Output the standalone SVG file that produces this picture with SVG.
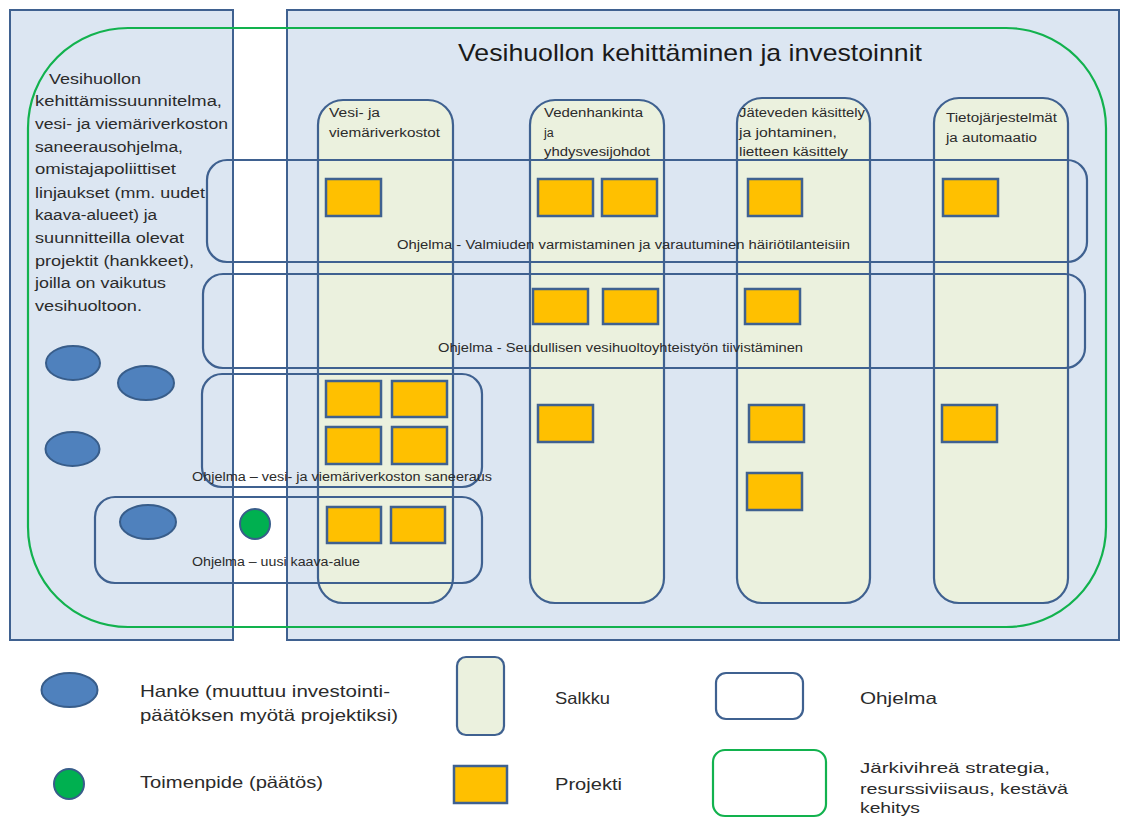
<svg xmlns="http://www.w3.org/2000/svg" width="1121" height="818" viewBox="0 0 1121 818">
  <style>
    text { font-family: "Liberation Sans", Arial, sans-serif; fill: #2b2b2b; }
    .panel { fill: #DCE6F2; stroke: #3F6190; stroke-width: 2; }
    .strategy { fill: none; stroke: #12B24E; stroke-width: 2.2; }
    .salkku { fill: #EBF1DE; stroke: #3F6190; stroke-width: 2.2; }
    .ohjelma { fill: none; stroke: #3F6190; stroke-width: 2.2; }
    .projekti { fill: #FFC000; stroke: #3F6190; stroke-width: 2.5; }
    .hanke { fill: #4F81BD; stroke: #385D8A; stroke-width: 2; }
    .toimenpide { fill: #00B050; stroke: #385D8A; stroke-width: 2; }
    .title { font-size: 24px; fill: #1a1a1a; }
    .desc { font-size: 15.5px; }
    .col { font-size: 12.5px; }
    .prog { font-size: 12.5px; }
    .legend { font-size: 16.5px; }
    .legend-sm { font-size: 15px; }
  </style>

  <!-- background panels -->
  <g id="panel-left">
    <rect class="panel" x="10" y="10" width="223" height="630"/>
  </g>
  <g id="panel-main">
    <rect class="panel" x="287" y="10" width="832" height="630"/>
    <text class="title" x="458" y="61" textLength="464" lengthAdjust="spacingAndGlyphs">Vesihuollon kehittäminen ja investoinnit</text>
  </g>

  <!-- strategy frame -->
  <g id="strategia">
    <rect class="strategy" x="28" y="28" width="1078" height="599" rx="100" ry="100"/>
  </g>

  <!-- left description -->
  <g id="kuvaus">
    <text class="desc" x="49" y="84" textLength="92" lengthAdjust="spacingAndGlyphs">Vesihuollon</text>
    <text class="desc" x="35" y="106" textLength="187" lengthAdjust="spacingAndGlyphs">kehittämissuunnitelma,</text>
    <text class="desc" x="35" y="129" textLength="193" lengthAdjust="spacingAndGlyphs">vesi- ja viemäriverkoston</text>
    <text class="desc" x="35" y="152" textLength="148" lengthAdjust="spacingAndGlyphs">saneerausohjelma,</text>
    <text class="desc" x="35" y="174" textLength="141" lengthAdjust="spacingAndGlyphs">omistajapoliittiset</text>
    <text class="desc" x="35" y="198" textLength="170" lengthAdjust="spacingAndGlyphs">linjaukset (mm. uudet</text>
    <text class="desc" x="35" y="220" textLength="122" lengthAdjust="spacingAndGlyphs">kaava-alueet) ja</text>
    <text class="desc" x="35" y="243" textLength="149" lengthAdjust="spacingAndGlyphs">suunnitteilla olevat</text>
    <text class="desc" x="35" y="266" textLength="159" lengthAdjust="spacingAndGlyphs">projektit (hankkeet),</text>
    <text class="desc" x="35" y="288" textLength="131" lengthAdjust="spacingAndGlyphs">joilla on vaikutus</text>
    <text class="desc" x="35" y="311" textLength="107" lengthAdjust="spacingAndGlyphs">vesihuoltoon.</text>
  </g>

  <!-- portfolios (salkut) -->
  <g id="salkku-verkostot">
    <rect class="salkku" x="318" y="100" width="135" height="503" rx="25" ry="25"/>
    <text class="col" x="329" y="117" textLength="51" lengthAdjust="spacingAndGlyphs">Vesi- ja</text>
    <text class="col" x="329" y="137" textLength="111" lengthAdjust="spacingAndGlyphs">viemäriverkostot</text>
  </g>
  <g id="salkku-vedenhankinta">
    <rect class="salkku" x="530" y="100" width="134" height="503" rx="25" ry="25"/>
    <text class="col" x="544" y="117" textLength="99" lengthAdjust="spacingAndGlyphs">Vedenhankinta</text>
    <text class="col" x="544" y="137">ja</text>
    <text class="col" x="544" y="156" textLength="106" lengthAdjust="spacingAndGlyphs">yhdysvesijohdot</text>
  </g>
  <g id="salkku-jatevesi">
    <rect class="salkku" x="737" y="98" width="133" height="505" rx="25" ry="25"/>
    <text class="col" x="739" y="117" textLength="126" lengthAdjust="spacingAndGlyphs">Jäteveden käsittely</text>
    <text class="col" x="739" y="137" textLength="98" lengthAdjust="spacingAndGlyphs">ja johtaminen,</text>
    <text class="col" x="739" y="156" textLength="109" lengthAdjust="spacingAndGlyphs">lietteen käsittely</text>
  </g>
  <g id="salkku-tietojarjestelmat">
    <rect class="salkku" x="934" y="98" width="134" height="505" rx="25" ry="25"/>
    <text class="col" x="946" y="122" textLength="111" lengthAdjust="spacingAndGlyphs">Tietojärjestelmät</text>
    <text class="col" x="946" y="142" textLength="91" lengthAdjust="spacingAndGlyphs">ja automaatio</text>
  </g>

  <!-- programmes (ohjelmat) -->
  <g id="ohjelma-valmius">
    <rect class="ohjelma" x="207" y="160" width="880" height="102" rx="20" ry="20"/>
    <text class="prog" x="397" y="249" textLength="453" lengthAdjust="spacingAndGlyphs">Ohjelma - Valmiuden varmistaminen ja varautuminen häiriötilanteisiin</text>
  </g>
  <g id="ohjelma-seudullinen">
    <rect class="ohjelma" x="203" y="274" width="882" height="94" rx="20" ry="20"/>
    <text class="prog" x="438" y="352" textLength="365" lengthAdjust="spacingAndGlyphs">Ohjelma - Seudullisen vesihuoltoyhteistyön tiivistäminen</text>
  </g>
  <g id="ohjelma-saneeraus">
    <rect class="ohjelma" x="202" y="374" width="280" height="113" rx="20" ry="20"/>
    <text class="prog" x="192" y="481" textLength="300" lengthAdjust="spacingAndGlyphs">Ohjelma – vesi- ja viemäriverkoston saneeraus</text>
  </g>
  <g id="ohjelma-kaava">
    <rect class="ohjelma" x="95" y="497" width="387" height="86" rx="20" ry="20"/>
    <text class="prog" x="192" y="566" textLength="168" lengthAdjust="spacingAndGlyphs">Ohjelma – uusi kaava-alue</text>
  </g>

  <!-- projects -->
  <g id="projektit">
    <rect class="projekti" x="326" y="179" width="55" height="37"/>
    <rect class="projekti" x="538" y="179" width="55" height="37"/>
    <rect class="projekti" x="602" y="179" width="55" height="37"/>
    <rect class="projekti" x="748" y="179" width="54" height="37"/>
    <rect class="projekti" x="943" y="179" width="55" height="37"/>

    <rect class="projekti" x="533" y="289" width="55" height="35"/>
    <rect class="projekti" x="603" y="289" width="55" height="35"/>
    <rect class="projekti" x="745" y="289" width="55" height="35"/>

    <rect class="projekti" x="326" y="381" width="55" height="36"/>
    <rect class="projekti" x="392" y="381" width="55" height="36"/>
    <rect class="projekti" x="326" y="427" width="55" height="37"/>
    <rect class="projekti" x="392" y="427" width="55" height="37"/>
    <rect class="projekti" x="538" y="405" width="55" height="37"/>
    <rect class="projekti" x="749" y="405" width="55" height="37"/>
    <rect class="projekti" x="747" y="473" width="55" height="37"/>
    <rect class="projekti" x="942" y="405" width="55" height="37"/>

    <rect class="projekti" x="327" y="507" width="54" height="36"/>
    <rect class="projekti" x="391" y="507" width="54" height="36"/>
  </g>

  <!-- projects in preparation and decisions -->
  <g id="hankkeet">
    <ellipse class="hanke" cx="73" cy="363" rx="27" ry="17"/>
    <ellipse class="hanke" cx="146" cy="383" rx="28" ry="17"/>
    <ellipse class="hanke" cx="72.5" cy="449" rx="27" ry="17"/>
    <ellipse class="hanke" cx="148" cy="522" rx="28" ry="17"/>
  </g>
  <g id="toimenpide">
    <circle class="toimenpide" cx="255" cy="524" r="15"/>
  </g>

  <!-- legend -->
  <g id="selite-hanke">
    <ellipse class="hanke" cx="69.5" cy="690" rx="28" ry="17"/>
    <text class="legend" x="140" y="697" textLength="250" lengthAdjust="spacingAndGlyphs">Hanke (muuttuu investointi-</text>
    <text class="legend" x="140" y="721" textLength="258" lengthAdjust="spacingAndGlyphs">päätöksen myötä projektiksi)</text>
  </g>
  <g id="selite-toimenpide">
    <circle class="toimenpide" cx="69" cy="784" r="15"/>
    <text class="legend" x="140" y="788" textLength="183" lengthAdjust="spacingAndGlyphs">Toimenpide (päätös)</text>
  </g>
  <g id="selite-salkku">
    <rect class="salkku" x="457" y="657" width="47" height="78" rx="9" ry="9"/>
    <text class="legend" x="555" y="704" textLength="55" lengthAdjust="spacingAndGlyphs">Salkku</text>
  </g>
  <g id="selite-projekti">
    <rect class="projekti" x="454" y="766" width="53" height="37"/>
    <text class="legend" x="555" y="790" textLength="67" lengthAdjust="spacingAndGlyphs">Projekti</text>
  </g>
  <g id="selite-ohjelma">
    <rect class="ohjelma" x="716" y="673" width="87" height="46" rx="10" ry="10"/>
    <text class="legend" x="860" y="704" textLength="77" lengthAdjust="spacingAndGlyphs">Ohjelma</text>
  </g>
  <g id="selite-strategia">
    <rect class="strategy" x="713" y="750" width="113" height="66" rx="12" ry="12"/>
    <text class="legend-sm" x="860" y="773" textLength="190" lengthAdjust="spacingAndGlyphs">Järkivihreä strategia,</text>
    <text class="legend-sm" x="860" y="794" textLength="208" lengthAdjust="spacingAndGlyphs">resurssiviisaus, kestävä</text>
    <text class="legend-sm" x="860" y="813" textLength="60" lengthAdjust="spacingAndGlyphs">kehitys</text>
  </g>
</svg>
